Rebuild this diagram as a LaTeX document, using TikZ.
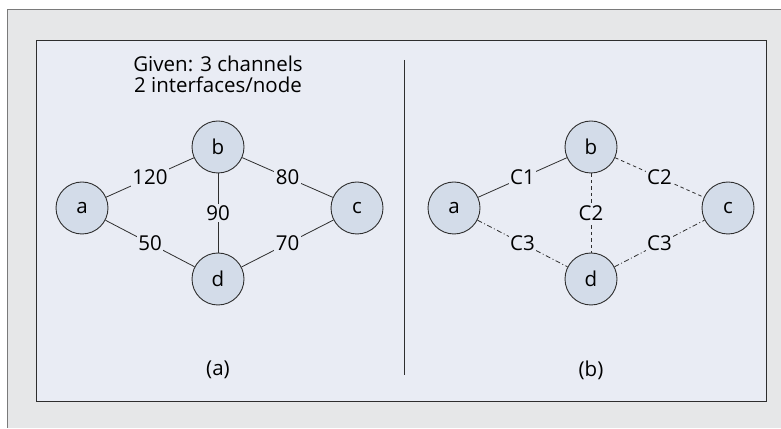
\documentclass[tikz,border=0pt]{standalone}
\usepackage{fontspec}
\setmainfont{Open Sans}
\usetikzlibrary{positioning}

\definecolor{framegray}{HTML}{E6E7E8}
\definecolor{framerule}{HTML}{7A7A7A}
\definecolor{panelblue}{HTML}{E9ECF4}
\definecolor{nodeblue}{HTML}{D3DCE9}
\definecolor{inkgray}{HTML}{2E2E2E}

\begin{document}
\begin{tikzpicture}[x=1pt,y=1pt,font=\fontsize{20.5}{21.5}\selectfont,
    vertex/.style={circle,draw=inkgray,fill=nodeblue,line width=0.9pt,minimum size=52pt,inner sep=0pt},
    weight/.style={fill=panelblue,inner sep=1.5pt},
    chanone/.style={draw=inkgray,line width=0.8pt},
    chantwo/.style={chanone,dash pattern=on 3.5pt off 3pt},
    chanthree/.style={chanone,dash pattern=on 5pt off 2.5pt on 1pt off 2.5pt}]

    \useasboundingbox (0,0) rectangle (781,428);

    % Outer frame (only top and left edges show)
    \fill [framegray] (7,418) rectangle (781,0);
    \draw [framerule,line width=1pt] (781,418) -- (7,418) -- (7,0);

    % Inner panel and divider
    \draw [panelblue,fill=panelblue] (36,388) rectangle (766,27);
    \draw [inkgray,line width=0.9pt] (36,388) rectangle (766,27);
    \draw [inkgray,line width=0.8pt] (404,368) -- (404,53);

    % (a) weighted graph
    \node [align=center] (given) at (218,353.5) {Given: 3 channels\\2 interfaces/node};
    \node [vertex] (a1) at (82,220) {a};
    \node [vertex] (b1) at (218,281) {b};
    \node [vertex] (c1) at (357,220) {c};
    \node [vertex] (d1) at (218,149) {d};
    \draw [chanone] (a1) -- node [weight] {120} (b1);
    \draw [chanone] (b1) -- node [weight] {80} (c1);
    \draw [chanone] (b1) -- node [weight] {90} (d1);
    \draw [chanone] (a1) -- node [weight] {50} (d1);
    \draw [chanone] (d1) -- node [weight] {70} (c1);
    \node (capa) at (218,58) {(a)};

    % (b) channel assignment
    \node [vertex] (a2) at (454,220) {a};
    \node [vertex] (b2) at (591,281) {b};
    \node [vertex] (c2) at (728,220) {c};
    \node [vertex] (d2) at (591,149) {d};
    \draw [chanone] (a2) -- node [weight] {C1} (b2);
    \draw [chantwo] (b2) -- node [weight] {C2} (c2);
    \draw [chantwo] (b2) -- node [weight] {C2} (d2);
    \draw [chanthree] (a2) -- node [weight] {C3} (d2);
    \draw [chanthree] (d2) -- node [weight] {C3} (c2);
    \node (capb) at (591,58) {(b)};

\end{tikzpicture}
\end{document}
